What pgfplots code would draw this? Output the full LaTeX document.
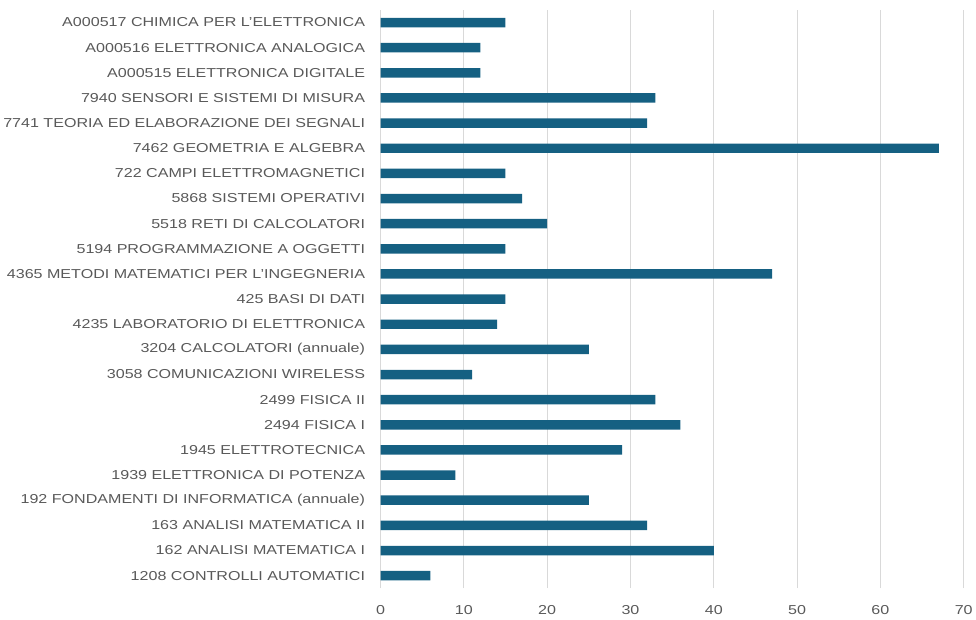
\documentclass[border=0pt]{standalone}
\usepackage{pgfplots}
\pgfplotsset{compat=1.18}
\usepackage{fontspec}
\setmainfont{Liberation Sans}[FakeStretch=1.24]
\definecolor{BarBlue}{HTML}{156082}
\definecolor{LabelGray}{HTML}{595959}
\definecolor{GridGray}{HTML}{D9D9D9}

\begin{document}
\begin{tikzpicture}
\begin{axis}[
  name=ax,
  scale only axis,
  width=585bp, height=580bp,
  xbar, bar width=9.5bp,
  xmin=0, xmax=70,
  ymin=-0.5, ymax=22.5,
  xtick={0,10,...,70},
  ytick={0,...,22},
  yticklabels={1208 CONTROLLI AUTOMATICI,162 ANALISI MATEMATICA I,163 ANALISI MATEMATICA II,192 FONDAMENTI DI INFORMATICA (annuale),1939 ELETTRONICA DI POTENZA,1945 ELETTROTECNICA,2494 FISICA I,2499 FISICA II,3058 COMUNICAZIONI WIRELESS,3204 CALCOLATORI (annuale),4235 LABORATORIO DI ELETTRONICA,425 BASI DI DATI,4365 METODI MATEMATICI PER L'INGEGNERIA,5194 PROGRAMMAZIONE A OGGETTI,5518 RETI DI CALCOLATORI,5868 SISTEMI OPERATIVI,722 CAMPI ELETTROMAGNETICI,7462 GEOMETRIA E ALGEBRA,7741 TEORIA ED ELABORAZIONE DEI SEGNALI,7940 SENSORI E SISTEMI DI MISURA,A000515 ELETTRONICA DIGITALE,A000516 ELETTRONICA ANALOGICA,A000517 CHIMICA PER L'ELETTRONICA},
  axis line style={draw=none},
  major tick length=0pt,
  tick label style={text=LabelGray,font=\fontsize{13bp}{15bp}\selectfont},
  /pgf/number format/assume math mode=true,
  yticklabel style={xshift=-12bp},
  xticklabel style={yshift=-14bp},
  xmajorgrids, grid style={draw=GridGray,line width=1bp},
  clip=false
]
\addplot[draw=none,fill=BarBlue] coordinates {
  (6,0) (40,1) (32,2) (25,3) (9,4) (29,5) (36,6) (33,7) (11,8) (25,9) (14,10) (15,11)
  (47,12) (15,13) (20,14) (17,15) (15,16) (67,17) (32,18) (33,19) (12,20) (12,21) (15,22)
};
\end{axis}
\path (ax.south west) ++(-379.5bp,-31bp);
\path (ax.north east) ++(12bp,10bp);
\end{tikzpicture}
\end{document}
